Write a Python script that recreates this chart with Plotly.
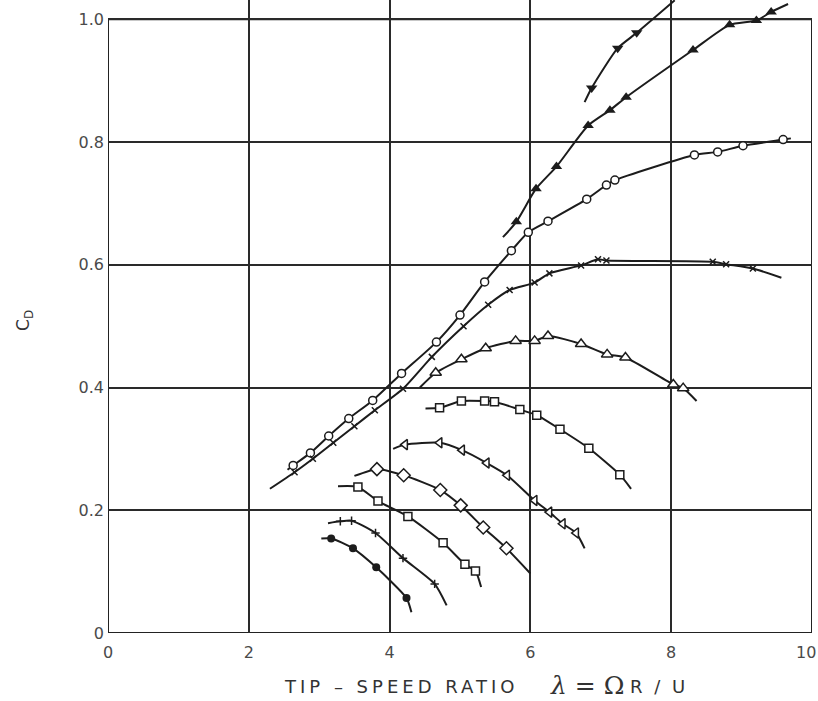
import plotly.graph_objects as go

# ---- axis ticks ----
X_TICKS = [0, 2, 4, 6, 8, 10]
X_TICK_LABELS = ["0", "2", "4", "6", "8", "10"]
Y_TICKS = [0, 0.2, 0.4, 0.6, 0.8, 1.0]
Y_TICK_LABELS = ["0", "0.2", "0.4", "0.6", "0.8", "1.0"]

# ---- curves: measured points (markers) + ends of the faired line ----
A_X = [6.87, 7.24, 7.51]
A_Y = [0.888, 0.953, 0.978]
A_START, A_END = (6.77, 0.865), (8.05, 1.031)

B_X = [5.80, 6.08, 6.37, 6.82, 7.13, 7.36, 8.31, 8.83, 9.21, 9.42]
B_Y = [0.670, 0.724, 0.760, 0.827, 0.852, 0.873, 0.950, 0.991, 0.998, 1.012]
B_START, B_END = (5.61, 0.645), (9.66, 1.025)

C_X = [2.63, 2.875, 3.135, 3.42, 3.76, 4.17, 4.665, 5.0, 5.35, 5.73, 5.97,
       6.25, 6.80, 7.08, 7.20, 8.33, 8.66, 9.02, 9.59]
C_Y = [0.273, 0.2935, 0.321, 0.3495, 0.379, 0.423, 0.474, 0.518, 0.572, 0.623,
       0.653, 0.671, 0.707, 0.730, 0.738, 0.779, 0.784, 0.794, 0.804]
C_START, C_END = (2.55, 0.266), (9.70, 0.806)

D_X = [2.65, 2.91, 3.2, 3.5, 3.79, 4.19, 4.6, 5.05, 5.4, 5.705, 6.06, 6.27,
       6.72, 6.96, 7.08, 8.59, 8.78, 9.16]
D_Y = [0.262, 0.284, 0.310, 0.337, 0.363, 0.398, 0.450, 0.500, 0.535, 0.559,
       0.571, 0.586, 0.599, 0.609, 0.607, 0.605, 0.601, 0.594]
D_START, D_END = (2.30, 0.235), (9.565, 0.579)

E_X = [4.655, 5.02, 5.365, 5.79, 6.06, 6.25, 6.72, 7.09, 7.35, 8.03, 8.17]
E_Y = [0.424, 0.446, 0.464, 0.476, 0.476, 0.484, 0.471, 0.454, 0.449, 0.405, 0.399]
E_START, E_END = (4.43, 0.400), (8.36, 0.378)

F_X = [4.71, 5.02, 5.35, 5.49, 5.85, 6.09, 6.42, 6.83, 7.27]
F_Y = [0.367, 0.378, 0.378, 0.377, 0.364, 0.355, 0.332, 0.301, 0.258]
F_START, F_END = (4.51, 0.366), (7.43, 0.235)

G_X = [4.22, 4.71, 5.03, 5.38, 5.67, 6.06, 6.27, 6.46, 6.65]
G_Y = [0.307, 0.310, 0.298, 0.277, 0.257, 0.216, 0.197, 0.178, 0.163]
G_START, G_END = (4.05, 0.300), (6.77, 0.138)

H_X = [3.82, 4.20, 4.72, 5.01, 5.33, 5.66]
H_Y = [0.267, 0.257, 0.233, 0.208, 0.172, 0.138]
H_START, H_END = (3.50, 0.256), (6.00, 0.097)

I_X = [3.55, 3.835, 4.26, 4.76, 5.07, 5.22]
I_Y = [0.238, 0.215, 0.190, 0.147, 0.112, 0.101]
I_START, I_END = (3.267, 0.239), (5.30, 0.075)

J_X = [3.30, 3.46, 3.80, 4.19, 4.64]
J_Y = [0.182, 0.183, 0.163, 0.122, 0.080]
J_START, J_END = (3.125, 0.179), (4.81, 0.045)

K_X = [3.17, 3.48, 3.81, 4.24]
K_Y = [0.154, 0.138, 0.107, 0.057]
K_START, K_END = (3.03, 0.154), (4.31, 0.034)

INK = "#1c1c1c"
OPEN = dict(color="white", line=dict(color=INK, width=1.5))

curves = [
    (A_X, A_Y, A_START, A_END, dict(symbol="triangle-down", size=10, color=INK)),
    (B_X, B_Y, B_START, B_END, dict(symbol="triangle-up", size=10, color=INK)),
    (C_X, C_Y, C_START, C_END, dict(symbol="circle", size=8, **OPEN)),
    (D_X, D_Y, D_START, D_END, dict(symbol="x-thin-open", size=6, color=INK,
                                    line=dict(color=INK, width=1.5))),
    (E_X, E_Y, E_START, E_END, dict(symbol="triangle-up", size=10, **OPEN)),
    (F_X, F_Y, F_START, F_END, dict(symbol="square", size=8, **OPEN)),
    (G_X, G_Y, G_START, G_END, dict(symbol="triangle-left", size=9, **OPEN)),
    (H_X, H_Y, H_START, H_END, dict(symbol="diamond", size=10, **OPEN)),
    (I_X, I_Y, I_START, I_END, dict(symbol="square", size=8, **OPEN)),
    (J_X, J_Y, J_START, J_END, dict(symbol="cross-thin-open", size=6, color=INK,
                                    line=dict(color=INK, width=1.5))),
    (K_X, K_Y, K_START, K_END, dict(symbol="circle", size=8, color=INK)),
]

fig = go.Figure()
for xs, ys, start, end, mk in curves:
    lx = [start[0]] + list(xs) + [end[0]]
    ly = [start[1]] + list(ys) + [end[1]]
    fig.add_trace(go.Scatter(x=lx, y=ly, mode="lines",
                             line=dict(color=INK, width=2, shape="spline", smoothing=0.6),
                             hoverinfo="skip", showlegend=False))
for xs, ys, start, end, mk in curves:
    fig.add_trace(go.Scatter(x=xs, y=ys, mode="markers", marker=mk,
                             showlegend=False, cliponaxis=False))

# frame
fig.add_shape(type="rect", x0=0, x1=10, y0=0, y1=1.0, xref="x", yref="y",
              line=dict(color="#222", width=2), layer="below")

axis_font = dict(family="DejaVu Sans", size=16, color="#4a4a4a")
fig.update_xaxes(range=[0, 10], tickvals=X_TICKS, ticktext=X_TICK_LABELS,
                 showgrid=True, gridcolor="#2a2a2a", gridwidth=1.8,
                 zeroline=False, showline=False, ticks="",
                 tickfont=axis_font, ticklabelstandoff=8)
fig.update_yaxes(range=[0, 1.0315], tickvals=Y_TICKS, ticktext=Y_TICK_LABELS,
                 showgrid=True, gridcolor="#2a2a2a", gridwidth=1.8,
                 zeroline=False, showline=False, ticks="",
                 tickfont=axis_font, ticklabelstandoff=3)

# last x tick label sits at the right edge (drawn explicitly, kept inside the page)
fig.add_annotation(xref="paper", yref="paper", x=1.0085, y=-0.031, showarrow=False,
                   xanchor="right", yanchor="middle", text=X_TICK_LABELS[-1],
                   font=axis_font)

title_font = dict(family="DejaVu Sans", size=18, color="#333")
fig.add_annotation(xref="paper", yref="paper", x=0.416, y=-0.085, showarrow=False,
                   xanchor="center", yanchor="middle",
                   text="<span style='letter-spacing:4px'>TIP – SPEED RATIO</span>",
                   font=title_font)
fig.add_annotation(xref="paper", yref="paper", x=0.681, y=-0.083, showarrow=False,
                   xanchor="center", yanchor="middle",
                   text="<i>λ</i> = Ω",
                   font=dict(family="DejaVu Serif", size=25, color="#333"))
fig.add_annotation(xref="paper", yref="paper", x=0.782, y=-0.085, showarrow=False,
                   xanchor="center", yanchor="middle",
                   text="<span style='letter-spacing:3px'>R / U</span>",
                   font=title_font)
fig.add_annotation(xref="paper", yref="paper", x=-0.118, y=0.4945, showarrow=False,
                   textangle=-90, xanchor="center", yanchor="middle",
                   text="C<sub>D</sub>", font=dict(family="DejaVu Sans", size=17, color="#333"))

fig.update_layout(width=818, height=701,
                  margin=dict(l=108, r=6, t=0, b=68),
                  plot_bgcolor="white", paper_bgcolor="white")

fig.write_html("out.html", config={"displayModeBar": False},
               post_script="document.body.style.margin='0';")
